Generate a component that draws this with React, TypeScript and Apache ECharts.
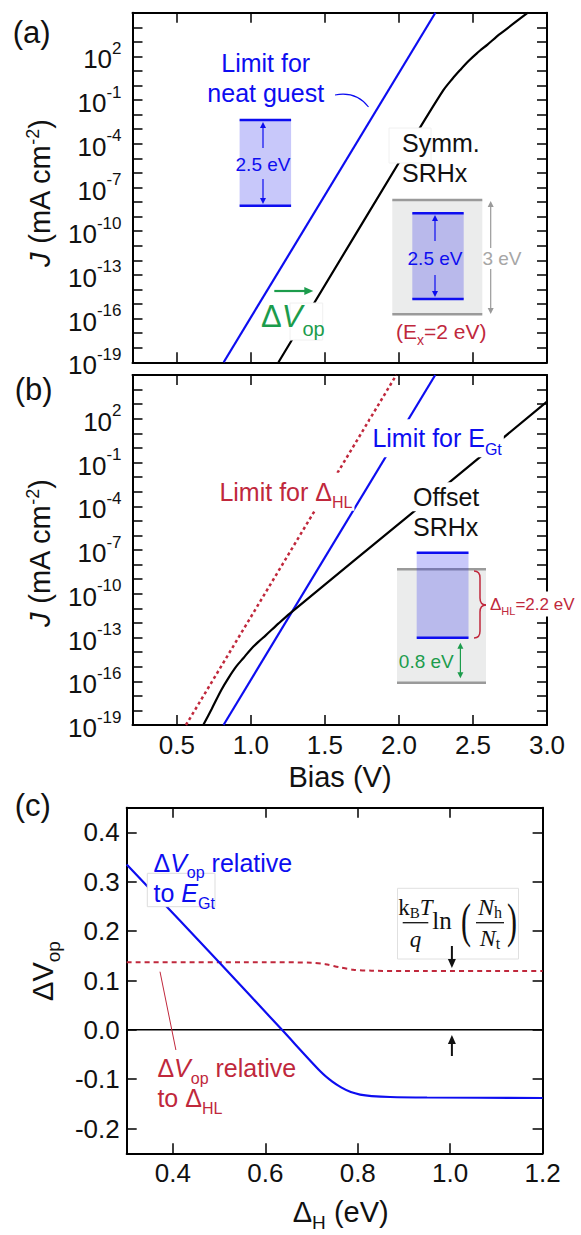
import React, { useEffect, useRef } from 'react';
import * as echarts from 'echarts';

const FONT = 'Liberation Sans, Arial, Helvetica, sans-serif';
const SERIF = 'Liberation Serif, Times New Roman, serif';

// ---------- DATA ----------
// Panels (a),(b): x = bias (V), y = log10 J (J in mA cm^-2)
const biasTicks = [0.5, 1.0, 1.5, 2.0, 2.5, 3.0];
const logJTicks = [-19, -18, -17, -16, -15, -14, -13, -12, -11, -10, -9, -8, -7, -6, -5, -4, -3, -2, -1, 0, 1, 2, 3, 4];
const logJLabels = [2, -1, -4, -7, -10, -13, -16, -19];

const aLimitNeatGuest = [[0.816, -19], [2.246, 5]];
const aSymmSRHx = [
  [1.186, -19], [2.1, -3.6], [2.3, -0.32], [2.36, 0.45], [2.413, 1.06], [2.47, 1.68],
  [2.526, 2.21], [2.6, 2.83], [2.683, 3.54], [2.871, 5],
];

const bLimitEGt = [[0.815, -19], [2.245, 5]];
const bLimitDeltaHL = [[0.561, -19], [1.982, 5]];
const bOffsetSRHx = [
  [0.678, -19], [0.735, -17.9], [0.8, -16.6], [0.85, -15.75], [0.9, -15.0], [0.95, -14.4],
  [1.0, -13.8], [1.05, -13.3], [1.1, -12.85], [1.185, -12.05], [1.264, -11.34], [2.1, -4.37], [3.0, 3.17],
];

// Panel (c): x = Delta_H (eV), y = Delta V_op (V)
const deltaHTicks = [0.4, 0.6, 0.8, 1.0, 1.2];
const dVopTicks = [-0.2, -0.1, 0.0, 0.1, 0.2, 0.3, 0.4];
const cRelEGt = [
  [0.3, 0.335], [0.5, 0.137], [0.636, 0.0], [0.72, -0.085], [0.745, -0.105], [0.765, -0.117],
  [0.785, -0.126], [0.805, -0.131], [0.83, -0.134], [0.87, -0.136], [0.95, -0.137], [1.2, -0.138],
];
const cRelDeltaHL = [
  [0.3, 0.137], [0.6, 0.137], [0.7, 0.136], [0.73, 0.133], [0.76, 0.127], [0.79, 0.122],
  [0.83, 0.12], [0.9, 0.119], [1.2, 0.119],
];
const cZero = [[0.3, 0], [1.2, 0]];

// ---------- STYLE ----------
const BLUE = '#0d0df0';
const RED = '#c0283c';
const GREEN = '#1c9c4c';
const GRAY = '#9a9a9a';
const TICK_FONT = 26;

const tickStyle = (vals: number[]) => ({
  show: true, inside: true, length: 10, customValues: vals,
  lineStyle: { color: '#000', width: 1.5 },
});
const lineAx = { show: true, onZero: false, lineStyle: { color: '#000', width: 2 } };

function xAx(grid: number, min: number, max: number, ticks: number[], pos: string, labels: boolean) {
  return {
    type: 'value', gridIndex: grid, min, max, position: pos,
    axisLine: lineAx, axisTick: tickStyle(ticks), splitLine: { show: false },
    axisLabel: labels
      ? { show: true, customValues: ticks, margin: 7, fontSize: TICK_FONT, color: '#111', fontFamily: FONT, formatter: (v: number) => v.toFixed(1) }
      : { show: false },
  };
}
function yLogAx(grid: number, pos: string, labels: boolean) {
  return {
    type: 'value', gridIndex: grid, min: -19, max: 5, position: pos,
    axisLine: lineAx, axisTick: tickStyle(logJTicks), splitLine: { show: false },
    axisLabel: labels
      ? {
          show: true, customValues: logJLabels, margin: 11,
          formatter: (v: number) => `{b|10}{s|${v}}`,
          rich: {
            b: { fontSize: TICK_FONT, fontFamily: FONT, color: '#111', padding: [6, 0, 0, 0] },
            s: { fontSize: 17, fontFamily: FONT, color: '#111', padding: [0, 0, 16, 0] },
          },
        }
      : { show: false },
  };
}
function yLinAx(grid: number, pos: string, labels: boolean) {
  return {
    type: 'value', gridIndex: grid, min: -0.25, max: 0.45, position: pos,
    axisLine: lineAx, axisTick: tickStyle(dVopTicks), splitLine: { show: false },
    axisLabel: labels
      ? { show: true, customValues: dVopTicks, margin: 7, fontSize: TICK_FONT, color: '#111', fontFamily: FONT, formatter: (v: number) => v.toFixed(1) }
      : { show: false },
  };
}

function lineSeries(data: number[][], xi: number, yi: number, color: string, width: number, type: any = 'solid', smooth: any = false) {
  return {
    type: 'line', data, xAxisIndex: xi, yAxisIndex: yi, showSymbol: false, symbol: 'none',
    clip: true, silent: true, smooth,
    lineStyle: { color, width, type },
  };
}

// ---------- GRAPHIC HELPERS ----------
const Z = 100;
function text(x: number, y: number, t: string, o: any = {}) {
  const { rotation, scaleX, scaleY, ...style } = o;
  return {
    type: 'text', x, y, z: Z, rotation, scaleX, scaleY,
    style: { text: t, fontFamily: FONT, fontSize: 25, fill: '#111', align: 'left', verticalAlign: 'middle', ...style },
  };
}
function rich(size: number, sub: number, drop: number, color: string, extra: any = {}) {
  return {
    n: { fontSize: size, fontFamily: FONT, fill: color },
    i: { fontSize: size, fontFamily: FONT, fill: color, fontStyle: 'italic' },
    s: { fontSize: sub, fontFamily: FONT, fill: color, padding: [drop * 2, 0, 0, 0] },
    u: { fontSize: sub, fontFamily: FONT, fill: color, padding: [0, 0, drop * 2, 0] },
    ...extra,
  };
}
function seg(x1: number, y1: number, x2: number, y2: number, stroke: string, lineWidth = 1.2) {
  return { type: 'line', z: Z, shape: { x1, y1, x2, y2 }, style: { stroke, lineWidth } };
}
function rect(x: number, y: number, w: number, h: number, fill: string, stroke: any = null) {
  return { type: 'rect', z: Z, shape: { x, y, width: w, height: h }, style: { fill, stroke, lineWidth: 1 } };
}
function head(x: number, y: number, dir: string, w: number, l: number, fill: string) {
  let pts: number[][];
  if (dir === 'up') pts = [[x, y], [x - w, y + l], [x + w, y + l]];
  else if (dir === 'down') pts = [[x, y], [x - w, y - l], [x + w, y - l]];
  else pts = [[x, y], [x - l, y - w], [x - l, y + w]];
  return { type: 'polygon', z: Z, shape: { points: pts }, style: { fill } };
}
function bez(x1: number, y1: number, cx: number, cy: number, x2: number, y2: number, stroke: string, lw = 1.5) {
  return { type: 'bezierCurve', z: Z, shape: { x1, y1, cpx1: cx, cpy1: cy, x2, y2 }, style: { stroke, lineWidth: lw, fill: null } };
}

const graphics: any[] = [
  // ---- panel (a)
  text(12.7, 32.5, '(a)', { fontSize: 31 }),
  text(40, 193, '{i|J}{n| (mA cm}{u|-2}{n|)}', { rotation: Math.PI / 2, align: 'center', rich: rich(29, 18, 7, '#111') }),
  text(265.7, 63, 'Limit for', { fill: BLUE, align: 'center' }),
  text(265.7, 93, 'neat guest', { fill: BLUE, align: 'center' }),
  bez(335, 95, 356, 91, 368.5, 107, BLUE, 1.2),
  rect(239.6, 120, 51.5, 85.7, '#c8c8fa'),
  seg(239.6, 120, 291.1, 120, BLUE, 2.5),
  seg(239.6, 205.7, 291.1, 205.7, BLUE, 2.5),
  seg(263, 126, 263, 148, BLUE, 1.2), head(263, 122, 'up', 3, 6, BLUE),
  seg(263, 179, 263, 200, BLUE, 1.2), head(263, 204, 'down', 3, 6, BLUE),
  text(263, 164, '2.5 eV', { fill: BLUE, fontSize: 19, align: 'center' }),
  rect(389, 128, 42, 35, '#ffffff', '#f0f0f0'),
  text(402, 143, 'Symm.'),
  text(402, 173, 'SRHx'),
  rect(392.3, 200, 90, 114.3, '#ebecec'),
  seg(392.3, 200, 482.3, 200, GRAY, 2.5),
  seg(392.3, 314.3, 482.3, 314.3, GRAY, 2.5),
  rect(412.3, 213.3, 51.4, 85.7, '#b9b9eb'),
  seg(412.3, 213.3, 463.7, 213.3, BLUE, 2.5),
  seg(412.3, 299, 463.7, 299, BLUE, 2.5),
  seg(435, 219, 435, 241, BLUE, 1.2), head(435, 215, 'up', 3, 6, BLUE),
  seg(435, 275, 435, 293, BLUE, 1.2), head(435, 297, 'down', 3, 6, BLUE),
  text(435, 258, '2.5 eV', { fill: BLUE, fontSize: 19, align: 'center' }),
  seg(490.7, 206, 490.7, 248, GRAY, 1.2), head(490.7, 201, 'up', 3, 6, GRAY),
  seg(490.7, 269, 490.7, 309, GRAY, 1.2), head(490.7, 314, 'down', 3, 6, GRAY),
  text(502, 258, '3 eV', { fill: '#a6a6a6', fontSize: 19, align: 'center' }),
  text(396, 331, '{n|(E}{s|x}{n|=2 eV)}', { rich: rich(21, 14, 9, RED) }),
  seg(274.3, 291, 306, 291, GREEN, 2.2), head(313.3, 291, 'right', 4, 9, GREEN),
  rect(290, 303, 32.7, 37, '#ffffff', '#f0f0f0'),
  text(261, 316.7, '{n|Δ}{i|V}{s|op}', { rich: rich(31, 20, 12, GREEN) }),

  // ---- panel (b)
  text(14.8, 389, '(b)', { fontSize: 31 }),
  text(40, 553, '{i|J}{n| (mA cm}{u|-2}{n|)}', { rotation: Math.PI / 2, align: 'center', rich: rich(29, 18, 7, '#111') }),
  text(370.4, 438.3, '{n|Limit for E}{s|Gt}', { rich: rich(25, 16, 11, BLUE), backgroundColor: '#fff', padding: [0, 2, 0, 2] }),
  text(217.4, 491.7, '{n|Limit for Δ}{s|HL}', { rich: rich(25, 16, 11, RED), backgroundColor: '#fff', padding: [0, 2, 0, 2] }),
  text(411, 496.7, 'Offset', { backgroundColor: '#fff', padding: [2, 2, 2, 2] }),
  text(413, 526.7, 'SRHx'),
  rect(397, 569.3, 89, 113.4, '#ebecec'),
  seg(397, 569.3, 486, 569.3, GRAY, 2.5),
  seg(397, 682.7, 486, 682.7, GRAY, 2.5),
  rect(416.7, 552.7, 51.8, 85, 'rgba(35,35,235,0.25)'),
  seg(416.7, 552.7, 468.5, 552.7, BLUE, 2.5),
  seg(416.7, 637.7, 468.5, 637.7, BLUE, 2.5),
  seg(460.4, 647, 460.4, 674, GREEN, 1.2), head(460.4, 642.7, 'up', 3, 6, GREEN), head(460.4, 678.3, 'down', 3, 6, GREEN),
  text(426.3, 661.7, '0.8 eV', { fill: GREEN, fontSize: 19, align: 'center' }),
  bez(474, 571, 480, 571, 480, 578, RED, 1.5),
  seg(480, 578, 480, 598, RED, 1.5),
  bez(480, 598, 480, 605, 486, 605, RED, 1.5),
  bez(486, 605, 480, 605, 480, 612, RED, 1.5),
  seg(480, 612, 480, 631, RED, 1.5),
  bez(480, 631, 480, 638, 474, 638, RED, 1.5),
  text(489, 604, '{n|Δ}{s|HL}{n|=2.2 eV}', { rich: rich(17, 11, 7, RED), backgroundColor: '#fff', padding: [0, 1, 0, 1] }),
  text(340, 777, 'Bias (V)', { fontSize: 29, align: 'center' }),

  // ---- panel (c)
  text(14.8, 805, '(c)', { fontSize: 31 }),
  text(42.6, 971, '{n|ΔV}{s|op}', { rotation: Math.PI / 2, align: 'center', rich: rich(29, 19, 11, '#111') }),
  text(340.7, 1212, '{n|Δ}{s|H}{n| (eV)}', { align: 'center', rich: rich(29, 19, 10, '#111') }),
  rect(147.3, 873.3, 67.7, 33.4, '#ffffff', '#dddddd'),
  text(153.5, 862.7, '{n|Δ}{i|V}{s|op}{n| relative}', { rich: rich(25, 16, 10, BLUE) }),
  text(153.5, 893.3, '{n|to }{i|E}{s|Gt}', { rich: rich(25, 16, 10, BLUE) }),
  seg(160, 971.7, 175.9, 1050, RED, 1),
  text(157.4, 1068.3, '{n|Δ}{i|V}{s|op}{n| relative}', { rich: rich(25, 16, 10, RED) }),
  text(157.4, 1098.3, '{n|to Δ}{s|HL}', { rich: rich(25, 16, 10, RED) }),
  // formula box
  rect(397.5, 888.3, 121, 70.7, '#ffffff', '#e0e0e0'),
  text(415.5, 907, '{n|k}{s|B}{i|T}', {
    align: 'center',
    rich: {
      n: { fontSize: 23, fontFamily: SERIF, fill: '#111' },
      i: { fontSize: 23, fontFamily: SERIF, fill: '#111', fontStyle: 'italic' },
      s: { fontSize: 15, fontFamily: SERIF, fill: '#111', padding: [12, 0, 0, 0] },
    },
  }),
  seg(402.7, 922.7, 428.3, 922.7, '#111', 1.3),
  text(415.5, 939, 'q', { fontFamily: SERIF, fontStyle: 'italic', fontSize: 23, align: 'center' }),
  text(442, 920, 'ln', { fontFamily: SERIF, fontSize: 25, align: 'center' }),
  text(466, 921, '(', { fontFamily: SERIF, fontSize: 30, align: 'center', scaleY: 1.6 }),
  text(490, 907, '{i|N}{s|h}', {
    align: 'center',
    rich: {
      i: { fontSize: 24, fontFamily: SERIF, fill: '#111', fontStyle: 'italic' },
      s: { fontSize: 16, fontFamily: SERIF, fill: '#111', padding: [10, 0, 0, 0] },
    },
  }),
  seg(476, 922.7, 504, 922.7, '#111', 1.3),
  text(490, 938, '{i|N}{s|t}', {
    align: 'center',
    rich: {
      i: { fontSize: 24, fontFamily: SERIF, fill: '#111', fontStyle: 'italic' },
      s: { fontSize: 16, fontFamily: SERIF, fill: '#111', padding: [10, 0, 0, 0] },
    },
  }),
  text(512, 921, ')', { fontFamily: SERIF, fontSize: 30, align: 'center', scaleY: 1.6 }),
  seg(451.9, 946, 451.9, 960, '#111', 2), head(451.9, 968, 'down', 4, 9, '#111'),
  seg(451.9, 1056, 451.9, 1043, '#111', 2), head(451.9, 1035, 'up', 4, 9, '#111'),
];

const option: any = {
  animation: false,
  backgroundColor: '#ffffff',
  textStyle: { fontFamily: FONT },
  grid: [
    { left: 132.5, top: 12.7, width: 414.5, height: 349.6, containLabel: false },
    { left: 132.5, top: 375, width: 414.5, height: 350, containLabel: false },
    { left: 126.7, top: 807.7, width: 415.9, height: 345.6, containLabel: false },
  ],
  xAxis: [
    xAx(0, 0.2, 3.0, biasTicks, 'bottom', false),
    xAx(0, 0.2, 3.0, biasTicks, 'top', false),
    xAx(1, 0.2, 3.0, biasTicks, 'bottom', true),
    xAx(1, 0.2, 3.0, biasTicks, 'top', false),
    xAx(2, 0.3, 1.2, deltaHTicks, 'bottom', true),
    xAx(2, 0.3, 1.2, deltaHTicks, 'top', false),
  ],
  yAxis: [
    yLogAx(0, 'left', true),
    yLogAx(0, 'right', false),
    yLogAx(1, 'left', true),
    yLogAx(1, 'right', false),
    yLinAx(2, 'left', true),
    yLinAx(2, 'right', false),
  ],
  series: [
    lineSeries(aLimitNeatGuest, 0, 0, BLUE, 2.2),
    lineSeries(aSymmSRHx, 0, 0, '#000', 2.2, 'solid', 0.3),
    lineSeries(bLimitDeltaHL, 2, 2, RED, 2.5, [3, 3]),
    lineSeries(bLimitEGt, 2, 2, BLUE, 2.2),
    lineSeries(bOffsetSRHx, 2, 2, '#000', 2.2, 'solid', 0.3),
    lineSeries(cZero, 4, 4, '#000', 1.5),
    lineSeries(cRelDeltaHL, 4, 4, RED, 2, [5, 4], 0.3),
    lineSeries(cRelEGt, 4, 4, BLUE, 2.2, 'solid', 0.3),
  ],
  graphic: { elements: graphics },
};

export default function App() {
  const ref = useRef<HTMLDivElement>(null);
  useEffect(() => {
    const chart = echarts.init(ref.current as HTMLDivElement, null, { renderer: 'svg' });
    chart.setOption(option);
    return () => chart.dispose();
  }, []);
  return (
    <div
      ref={ref}
      style={{ position: 'absolute', left: 0, top: 0, width: 581, height: 1235, background: '#fff' }}
    />
  );
}
